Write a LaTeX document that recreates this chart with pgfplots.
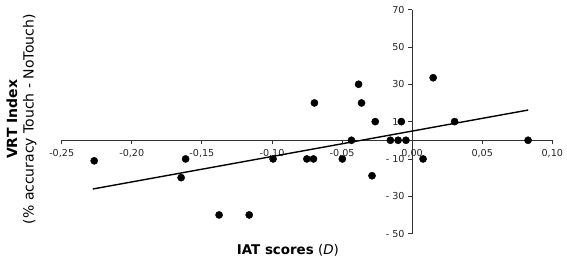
\documentclass[border=0pt]{standalone}
\usepackage{fontspec}
\setmainfont{DejaVu Sans}
\usepackage{pgfplots}
\pgfplotsset{compat=1.18}
\begin{document}
\begin{tikzpicture}[x=1pt,y=1pt]
\path[use as bounding box] (0,0) rectangle (567,263);
\begin{axis}[
  at={(61.7pt,29.4pt)}, anchor=south west,
  scale only axis, width=490.6pt, height=224pt,
  axis lines=middle,
  axis line style={-, black!80, line width=0.9pt},
  xmin=-0.25, xmax=0.10, ymin=-50, ymax=70,
  xtick={-0.25,-0.20,-0.15,-0.10,-0.05,0,0.05,0.10},
  xticklabels={{-0,25},{-0,20},{-0,15},{-0,10},{-0,05},{0,00},{0,05},{0,10}},
  ytick={-50,-30,-10,10,30,50,70},
  yticklabels={{- 50},{- 30},{- 10},{10},{30},{50},{70}},
  hide obscured x ticks=false, hide obscured y ticks=false,
  tick align=outside, major tick length=4pt,
  tick style={black!80, line width=0.8pt},
  ticklabel style={font=\fontsize{9.6}{11}\selectfont, text=black!85},
  xticklabel style={yshift=-1.5pt},
  xlabel={\textbf{IAT scores} (\textit{D})},
  xlabel style={at={(rel axis cs:0.461,-0.073)}, anchor=center, font=\fontsize{13.4}{15}\selectfont},
  ylabel={\textbf{VRT Index}\\(\% accuracy Touch - NoTouch)},
  ylabel style={at={(rel axis cs:-0.082,0.51)}, anchor=center, rotate=90, align=center, font=\fontsize{14}{16.5}\selectfont},
  clip=false,
]
\addplot[only marks, mark=*, mark size=3.6pt, black] coordinates {
(-0.2268,-11) (-0.1616,-10) (-0.1648,-20) (-0.1377,-40) (-0.1162,-40)
(-0.0992,-10) (-0.0751,-10) (-0.0704,-10) (-0.0697,20) (-0.0498,-10)
(-0.0433,0) (-0.0382,30) (-0.0361,20) (-0.0263,10) (-0.0286,-19)
(-0.0155,0) (-0.0100,0) (-0.0077,10) (-0.0044,0) (0.0078,-10)
(0.0150,33.5) (0.0303,10) (0.0827,0)
};
\addplot[black, line width=1.4pt] coordinates {(-0.2278,-26.1) (0.0828,16.2)};
\end{axis}
\end{tikzpicture}
\end{document}
